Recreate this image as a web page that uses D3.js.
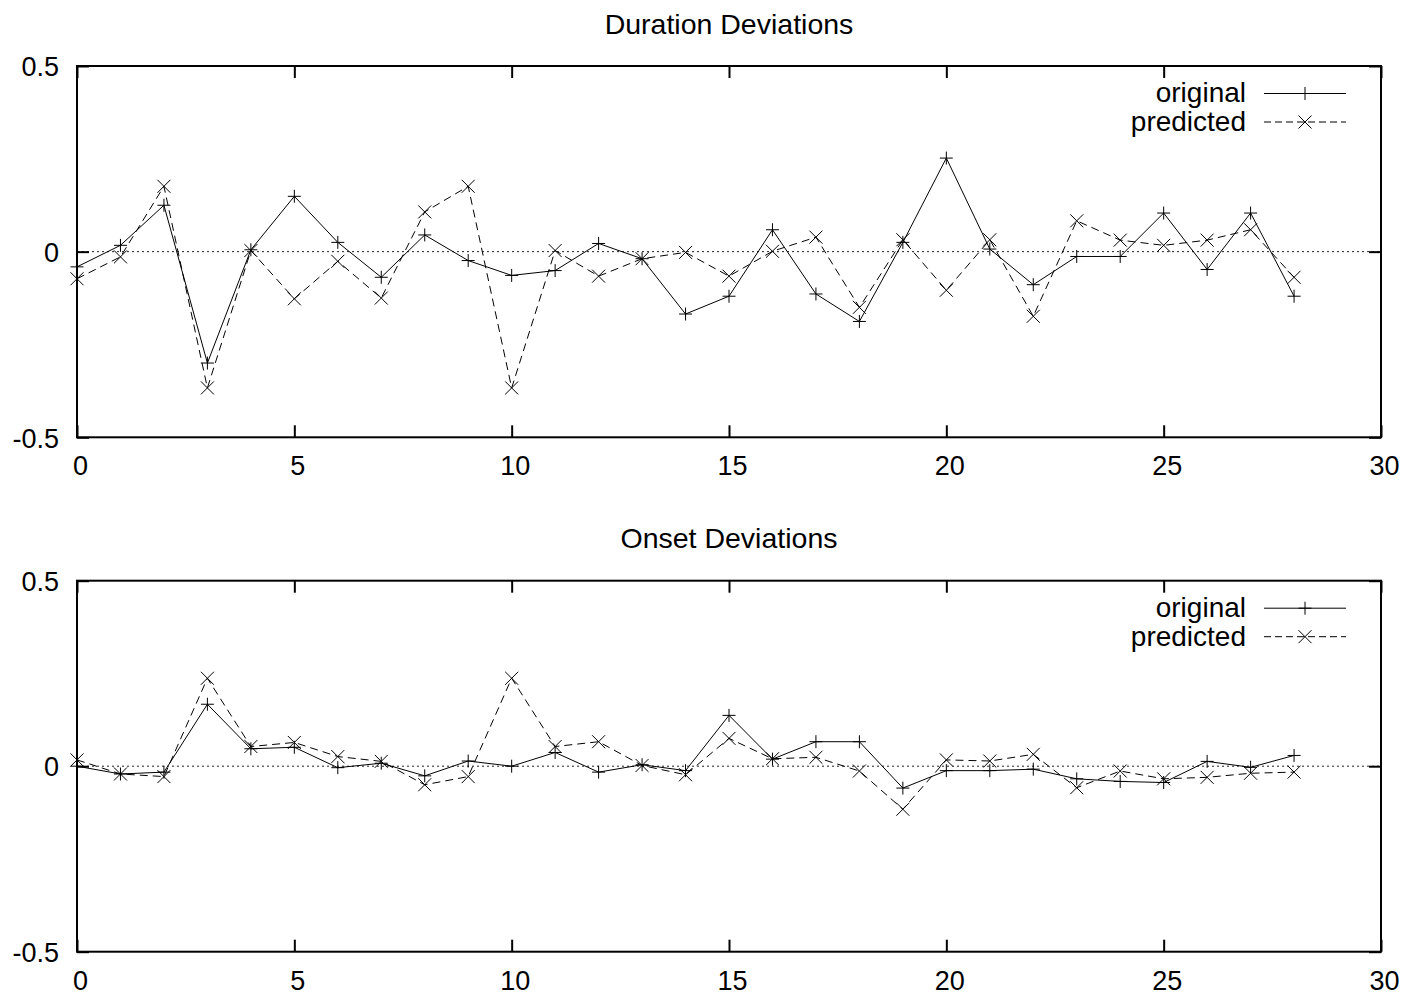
<!DOCTYPE html>
<html>
<head>
<meta charset="utf-8">
<script src="https://cdn.jsdelivr.net/npm/d3@7"></script>
<style>
  body { margin: 0; background: #fff; }
  svg { display: block; font-family: "Liberation Sans", Arial, Helvetica, sans-serif; }
</style>
</head>
<body>
<div id="chart"></div>
<script>
// note index along the x axis
const steps = [0, 1, 2, 3, 4, 5, 6, 7, 8, 9, 10, 11, 12, 13, 14, 15, 16, 17, 18, 19, 20, 21, 22, 23, 24, 25, 26, 27, 28];

// Duration deviations
const durationOriginal = [-0.041, 0.017, 0.125, -0.300, 0.005, 0.149, 0.025, -0.069, 0.045, -0.024,
  -0.064, -0.051, 0.022, -0.019, -0.168, -0.120, 0.059, -0.114, -0.188, 0.025,
  0.252, 0.007, -0.089, -0.013, -0.013, 0.104, -0.048, 0.104, -0.120];
const durationPredicted = [-0.073, -0.014, 0.176, -0.367, 0.003, -0.127, -0.026, -0.125, 0.107, 0.176,
  -0.367, 0.003, -0.066, -0.019, -0.002, -0.066, 0.001, 0.039, -0.150, 0.032,
  -0.104, 0.032, -0.174, 0.083, 0.031, 0.017, 0.031, 0.059, -0.069];

// Onset deviations
const onsetOriginal = [0.000, -0.021, -0.016, 0.167, 0.047, 0.051, -0.004, 0.008, -0.026, 0.014,
  0.000, 0.037, -0.016, 0.004, -0.012, 0.137, 0.019, 0.066, 0.066, -0.059,
  -0.012, -0.012, -0.008, -0.034, -0.041, -0.044, 0.013, -0.003, 0.029];
const onsetPredicted = [0.017, -0.021, -0.028, 0.237, 0.053, 0.064, 0.026, 0.013, -0.050, -0.028,
  0.237, 0.053, 0.066, 0.002, -0.023, 0.075, 0.020, 0.024, -0.013, -0.116,
  0.017, 0.014, 0.032, -0.058, -0.013, -0.034, -0.030, -0.019, -0.016];

const xTicks = [0, 5, 10, 15, 20, 25, 30];
const yTicks = [-0.5, 0, 0.5];
const seriesNames = ["original", "predicted"];

const width = 1403;
const height = 993;
const left = 77;
const right = 1381;
const fontSize = 27;

const svg = d3.select("#chart")
  .append("svg")
  .attr("width", width)
  .attr("height", height);

const plusPath = "M-6.5,0H6.5M0,-6.5V6.5";
const crossPath = "M-6.5,-6.5L6.5,6.5M-6.5,6.5L6.5,-6.5";

function drawPanel(title, original, predicted, top, bottom, titleY) {
  const x = d3.scaleLinear().domain([0, 30]).range([left, right]);
  const y = d3.scaleLinear().domain([-0.5, 0.5]).range([bottom, top]);

  const g = svg.append("g");

  // title
  g.append("text")
    .attr("x", (left + right) / 2)
    .attr("y", titleY)
    .attr("text-anchor", "middle")
    .style("font-size", "28.5px")
    .text(title);

  // zero line (dotted)
  g.append("line")
    .attr("x1", x(0))
    .attr("x2", x(30))
    .attr("y1", y(0))
    .attr("y2", y(0))
    .attr("stroke", "#222")
    .attr("stroke-width", 1)
    .attr("stroke-dasharray", "2,3");

  // axes, ticks pointing inward
  const styleAxis = (sel) => {
    sel.select(".domain").remove();
    sel.selectAll(".tick line").attr("stroke", "#000").attr("stroke-width", 2);
    sel.selectAll(".tick text")
      .attr("fill", "#000")
      .style("font-size", fontSize + "px")
      .style("font-family", "Liberation Sans, Arial, sans-serif");
  };

  g.append("g")
    .attr("transform", `translate(0,${bottom})`)
    .call(d3.axisBottom(x).tickValues(xTicks).tickSize(-12).tickPadding(19).tickFormat((d) => String(d)))
    .call(styleAxis)
    .selectAll(".tick text").attr("dx", 3);

  g.append("g")
    .attr("transform", `translate(0,${top})`)
    .call(d3.axisTop(x).tickValues(xTicks).tickSize(-12).tickFormat(""))
    .call(styleAxis);

  g.append("g")
    .attr("transform", `translate(${left},0)`)
    .call(d3.axisLeft(y).tickValues(yTicks).tickSize(-12).tickPadding(18).tickFormat((d) => String(d)))
    .call(styleAxis)
    .selectAll(".tick text").attr("dy", "0.36em");

  g.append("g")
    .attr("transform", `translate(${right},0)`)
    .call(d3.axisRight(y).tickValues(yTicks).tickSize(-12).tickFormat(""))
    .call(styleAxis);

  // frame
  g.append("rect")
    .attr("x", left)
    .attr("y", top)
    .attr("width", right - left)
    .attr("height", bottom - top)
    .attr("fill", "none")
    .attr("stroke", "#000")
    .attr("stroke-width", 2);

  const line = d3.line()
    .x((d, i) => x(steps[i]))
    .y((d) => y(d));

  // original: solid with plus marks
  g.append("path")
    .datum(original)
    .attr("d", line)
    .attr("fill", "none")
    .attr("stroke", "#000")
    .attr("stroke-width", 1);

  g.selectAll(".mark-orig")
    .data(original)
    .enter()
    .append("path")
    .attr("class", "mark-orig")
    .attr("transform", (d, i) => `translate(${x(steps[i])},${y(d)})`)
    .attr("d", plusPath)
    .attr("stroke", "#000")
    .attr("stroke-width", 1);

  // predicted: dashed with x marks
  g.append("path")
    .datum(predicted)
    .attr("d", line)
    .attr("fill", "none")
    .attr("stroke", "#000")
    .attr("stroke-width", 1)
    .attr("stroke-dasharray", "8,5");

  g.selectAll(".mark-pred")
    .data(predicted)
    .enter()
    .append("path")
    .attr("class", "mark-pred")
    .attr("transform", (d, i) => `translate(${x(steps[i])},${y(d)})`)
    .attr("d", crossPath)
    .attr("stroke", "#000")
    .attr("stroke-width", 1);

  // legend
  const legend = g.append("g");
  const marks = [plusPath, crossPath];
  const dashes = [null, "7,4"];
  seriesNames.forEach((name, i) => {
    const ly = top + 27.5 + i * 28.5;
    legend.append("text")
      .attr("x", 1246)
      .attr("y", ly)
      .attr("dy", "0.32em")
      .attr("text-anchor", "end")
      .style("font-size", "28px")
      .text(name);
    legend.append("line")
      .attr("x1", 1264)
      .attr("x2", 1346)
      .attr("y1", ly)
      .attr("y2", ly)
      .attr("stroke", "#000")
      .attr("stroke-width", 1)
      .attr("stroke-dasharray", dashes[i]);
    legend.append("path")
      .attr("transform", `translate(1305,${ly})`)
      .attr("d", marks[i])
      .attr("stroke", "#000")
      .attr("stroke-width", 1);
  });
}

drawPanel("Duration Deviations", durationOriginal, durationPredicted, 66, 437.3, 34);
drawPanel("Onset Deviations", onsetOriginal, onsetPredicted, 580.7, 951.7, 548);
</script>
</body>
</html>
